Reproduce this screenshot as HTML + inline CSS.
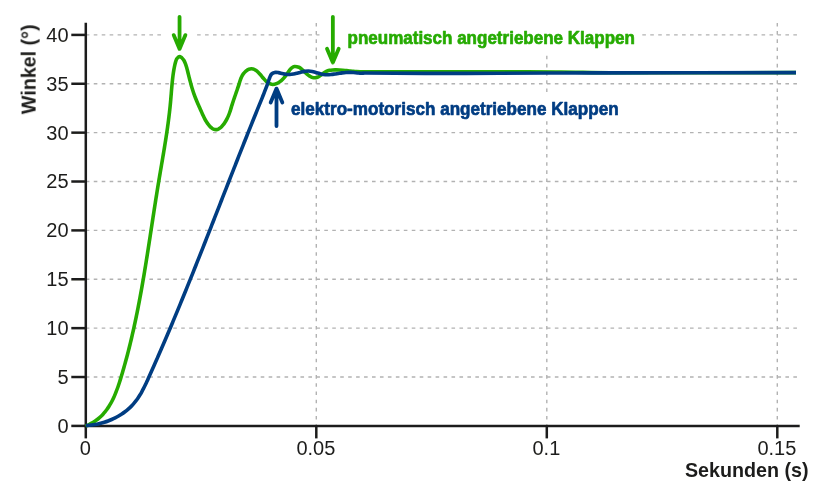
<!DOCTYPE html>
<html lang="de"><head><meta charset="utf-8"><title>Winkel / Sekunden</title>
<style>
html,body{margin:0;padding:0;background:#fff;}
body{width:840px;height:491px;overflow:hidden;}
svg{display:block;}
text{font-family:"Liberation Sans",Arial,Helvetica,sans-serif;}
</style></head><body>
<svg width="840" height="491" viewBox="0 0 840 491">
<defs><filter id="soft" x="0" y="0" width="840" height="491" filterUnits="userSpaceOnUse"><feGaussianBlur stdDeviation="0.5"/></filter></defs>
<rect width="840" height="491" fill="#fff"/>
<g filter="url(#soft)">
<g stroke="#b2b2b2" stroke-width="1.4" stroke-dasharray="3.6 4.35" fill="none">
<line x1="85.8" y1="377.02" x2="797.6" y2="377.02"/>
<line x1="85.8" y1="328.15" x2="797.6" y2="328.15"/>
<line x1="85.8" y1="279.27" x2="797.6" y2="279.27"/>
<line x1="85.8" y1="230.40" x2="797.6" y2="230.40"/>
<line x1="85.8" y1="181.52" x2="797.6" y2="181.52"/>
<line x1="85.8" y1="132.65" x2="797.6" y2="132.65"/>
<line x1="85.8" y1="83.77" x2="797.6" y2="83.77"/>
<line x1="85.8" y1="34.90" x2="797.6" y2="34.90"/>
<line x1="316.30" y1="22.9" x2="316.30" y2="425.9" stroke-dasharray="3.6 4.59"/>
<line x1="546.80" y1="22.9" x2="546.80" y2="425.9" stroke-dasharray="3.6 4.59"/>
<line x1="777.30" y1="22.9" x2="777.30" y2="425.9" stroke-dasharray="3.6 4.59"/>
</g>
<g fill="#fff">
<rect x="161" y="10" width="35.5" height="42"/>
<rect x="319.5" y="10" width="321" height="44.5"/>
<rect x="266" y="92" width="360" height="27"/>
</g>
<g stroke="#1d1d1b" stroke-width="2.5" fill="none">
<line x1="85.8" y1="22.8" x2="85.8" y2="427.15"/>
<line x1="84.55" y1="425.9" x2="799.7" y2="425.9"/>
<line x1="71.3" y1="425.90" x2="85.8" y2="425.90"/>
<line x1="71.3" y1="377.02" x2="85.8" y2="377.02"/>
<line x1="71.3" y1="328.15" x2="85.8" y2="328.15"/>
<line x1="71.3" y1="279.27" x2="85.8" y2="279.27"/>
<line x1="71.3" y1="230.40" x2="85.8" y2="230.40"/>
<line x1="71.3" y1="181.52" x2="85.8" y2="181.52"/>
<line x1="71.3" y1="132.65" x2="85.8" y2="132.65"/>
<line x1="71.3" y1="83.77" x2="85.8" y2="83.77"/>
<line x1="71.3" y1="34.90" x2="85.8" y2="34.90"/>
<line x1="85.80" y1="425.9" x2="85.80" y2="438.4"/>
<line x1="316.30" y1="425.9" x2="316.30" y2="438.4"/>
<line x1="546.80" y1="425.9" x2="546.80" y2="438.4"/>
<line x1="777.30" y1="425.9" x2="777.30" y2="438.4"/>
</g>
<g font-size="20" fill="#1d1d1b">
<text x="68.6" y="432.85" text-anchor="end">0</text>
<text x="68.6" y="383.97" text-anchor="end">5</text>
<text x="68.6" y="335.10" text-anchor="end">10</text>
<text x="68.6" y="286.22" text-anchor="end">15</text>
<text x="68.6" y="237.35" text-anchor="end">20</text>
<text x="68.6" y="188.47" text-anchor="end">25</text>
<text x="68.6" y="139.60" text-anchor="end">30</text>
<text x="68.6" y="90.72" text-anchor="end">35</text>
<text x="68.6" y="41.85" text-anchor="end">40</text>
<text x="85.40" y="455.1" text-anchor="middle">0</text>
<text x="315.90" y="455.1" text-anchor="middle">0.05</text>
<text x="546.40" y="455.1" text-anchor="middle">0.1</text>
<text x="776.90" y="455.1" text-anchor="middle">0.15</text>
</g>
<g font-size="19.7" font-weight="bold" fill="#1d1d1b">
<text x="808.5" y="477.2" text-anchor="end">Sekunden (s)</text>
<text transform="translate(35.6,114.2) rotate(-90)">Winkel (°)</text>
</g>
<path d="M85.60,426.08 C86.75,425.58 87.91,425.13 89.04,424.59 C90.13,424.07 91.19,423.51 92.24,422.91 C93.25,422.33 94.24,421.70 95.20,421.04 C96.14,420.40 97.06,419.71 97.95,419.00 C98.83,418.30 99.68,417.56 100.50,416.79 C101.31,416.04 102.09,415.25 102.85,414.44 C103.60,413.63 104.32,412.79 105.02,411.94 C105.72,411.08 106.39,410.21 107.03,409.31 C107.67,408.42 108.29,407.50 108.88,406.57 C109.48,405.63 110.04,404.68 110.59,403.72 C111.14,402.75 111.67,401.76 112.17,400.77 C112.68,399.77 113.17,398.76 113.64,397.74 C114.11,396.71 114.56,395.67 115.00,394.63 C115.44,393.58 115.86,392.52 116.27,391.46 C116.68,390.39 117.08,389.32 117.47,388.24 C117.85,387.16 118.23,386.07 118.59,384.98 C118.96,383.89 119.32,382.79 119.67,381.70 C120.02,380.60 120.36,379.49 120.70,378.39 C121.04,377.29 121.37,376.18 121.71,375.08 C122.04,373.97 122.36,372.87 122.69,371.76 C123.01,370.66 123.33,369.55 123.65,368.45 C123.97,367.34 124.28,366.24 124.59,365.13 C124.90,364.03 125.21,362.92 125.51,361.81 C125.82,360.71 126.12,359.60 126.42,358.49 C126.71,357.39 127.01,356.28 127.30,355.17 C127.59,354.06 127.88,352.96 128.16,351.85 C128.45,350.74 128.73,349.63 129.01,348.52 C129.28,347.42 129.56,346.31 129.83,345.20 C130.11,344.09 130.38,342.98 130.64,341.87 C130.91,340.76 131.17,339.65 131.44,338.54 C131.70,337.44 131.96,336.33 132.21,335.22 C132.47,334.11 132.72,333.00 132.97,331.89 C133.23,330.78 133.47,329.66 133.72,328.55 C133.97,327.44 134.21,326.33 134.45,325.22 C134.69,324.11 134.93,323.00 135.17,321.89 C135.40,320.78 135.64,319.66 135.87,318.55 C136.10,317.44 136.33,316.33 136.56,315.21 C136.79,314.10 137.01,312.99 137.24,311.88 C137.46,310.76 137.68,309.65 137.90,308.54 C138.12,307.42 138.34,306.31 138.55,305.20 C138.77,304.08 138.98,302.97 139.19,301.86 C139.40,300.74 139.61,299.63 139.82,298.51 C140.03,297.40 140.24,296.29 140.44,295.17 C140.65,294.06 140.85,292.94 141.05,291.83 C141.25,290.71 141.45,289.60 141.65,288.48 C141.85,287.36 142.05,286.25 142.24,285.13 C142.44,284.02 142.63,282.90 142.82,281.79 C143.02,280.67 143.21,279.55 143.40,278.44 C143.59,277.32 143.78,276.20 143.97,275.09 C144.15,273.97 144.34,272.85 144.53,271.74 C144.71,270.62 144.90,269.50 145.08,268.38 C145.26,267.27 145.45,266.15 145.63,265.03 C145.81,263.91 145.99,262.79 146.17,261.68 C146.35,260.56 146.53,259.44 146.71,258.32 C146.88,257.20 147.06,256.08 147.24,254.97 C147.42,253.85 147.59,252.73 147.77,251.61 C147.94,250.49 148.12,249.37 148.29,248.25 C148.47,247.13 148.64,246.01 148.82,244.89 C148.99,243.77 149.16,242.65 149.33,241.53 C149.51,240.41 149.68,239.29 149.85,238.17 C150.02,237.05 150.20,235.93 150.37,234.81 C150.54,233.69 150.71,232.57 150.88,231.45 C151.06,230.33 151.23,229.21 151.40,228.08 C151.57,226.96 151.74,225.84 151.91,224.72 C152.08,223.60 152.26,222.48 152.43,221.36 C152.60,220.23 152.77,219.11 152.94,217.99 C153.12,216.87 153.29,215.75 153.46,214.62 C153.63,213.50 153.81,212.38 153.98,211.26 C154.15,210.13 154.33,209.01 154.50,207.89 C154.67,206.77 154.85,205.64 155.02,204.52 C155.20,203.40 155.38,202.27 155.55,201.15 C155.73,200.03 155.91,198.90 156.08,197.78 C156.26,196.66 156.44,195.53 156.62,194.41 C156.80,193.28 156.98,192.16 157.16,191.04 C157.34,189.91 157.52,188.79 157.71,187.66 C157.89,186.54 158.07,185.42 158.26,184.29 C158.44,183.17 158.63,182.04 158.82,180.92 C159.00,179.79 159.19,178.67 159.38,177.54 C159.57,176.42 159.76,175.29 159.95,174.17 C160.14,173.04 160.33,171.92 160.52,170.79 C160.72,169.67 160.91,168.54 161.10,167.42 C161.29,166.29 161.48,165.17 161.67,164.04 C161.87,162.91 162.06,161.79 162.25,160.66 C162.44,159.54 162.63,158.41 162.82,157.29 C163.01,156.16 163.20,155.03 163.39,153.91 C163.58,152.78 163.76,151.66 163.95,150.53 C164.14,149.40 164.32,148.28 164.51,147.15 C164.69,146.02 164.87,144.90 165.05,143.77 C165.23,142.65 165.41,141.52 165.59,140.39 C165.77,139.27 165.94,138.14 166.12,137.01 C166.29,135.89 166.46,134.76 166.63,133.63 C166.80,132.51 166.96,131.38 167.13,130.25 C167.29,129.13 167.45,128.00 167.61,126.87 C167.77,125.75 167.92,124.62 168.08,123.49 C168.23,122.37 168.38,121.24 168.52,120.11 C168.67,118.99 168.81,117.86 168.95,116.73 C169.09,115.61 169.22,114.48 169.35,113.35 C169.48,112.23 169.61,111.10 169.73,109.98 C169.86,108.85 169.98,107.72 170.09,106.60 C170.21,105.47 170.32,104.34 170.42,103.22 C170.53,102.09 170.63,100.96 170.73,99.84 C170.82,98.71 170.92,97.58 171.01,96.46 C171.10,95.33 171.19,94.20 171.29,93.08 C171.38,91.95 171.47,90.82 171.56,89.69 C171.66,88.57 171.76,87.44 171.86,86.31 C171.96,85.18 172.06,84.05 172.18,82.92 C172.29,81.79 172.40,80.66 172.53,79.53 C172.66,78.40 172.79,77.27 172.93,76.14 C173.08,75.01 173.23,73.87 173.39,72.74 C173.56,71.60 173.73,70.46 173.93,69.33 C174.14,68.14 174.36,66.95 174.62,65.77 C174.92,64.47 175.19,63.15 175.61,61.89 C176.01,60.68 176.27,59.24 177.07,58.36 C177.83,57.52 179.34,56.50 180.29,56.73 C181.50,57.01 182.66,58.72 183.57,59.91 C184.29,60.84 184.73,62.00 185.19,63.09 C185.68,64.26 186.06,65.49 186.43,66.70 C186.81,67.94 187.12,69.21 187.44,70.46 C187.76,71.67 188.05,72.90 188.35,74.11 C188.64,75.27 188.92,76.42 189.21,77.58 C189.49,78.68 189.77,79.79 190.06,80.89 C190.34,81.96 190.62,83.02 190.92,84.09 C191.20,85.13 191.49,86.17 191.80,87.20 C192.10,88.23 192.41,89.25 192.74,90.27 C193.06,91.29 193.40,92.31 193.75,93.32 C194.11,94.35 194.48,95.38 194.86,96.40 C195.26,97.45 195.67,98.49 196.10,99.53 C196.53,100.60 196.98,101.66 197.44,102.72 C197.90,103.80 198.38,104.87 198.85,105.94 C199.33,107.02 199.82,108.09 200.30,109.17 C200.78,110.24 201.26,111.30 201.73,112.37 C202.20,113.42 202.66,114.48 203.14,115.52 C203.62,116.56 204.10,117.59 204.62,118.60 C205.14,119.61 205.68,120.61 206.29,121.57 C206.90,122.55 207.54,123.52 208.26,124.42 C208.99,125.35 209.76,126.28 210.63,127.08 C211.46,127.84 212.32,128.74 213.34,129.09 C214.63,129.54 216.25,129.69 217.59,129.45 C218.58,129.27 219.51,128.49 220.33,127.84 C221.28,127.08 222.12,126.15 222.90,125.21 C223.74,124.20 224.48,123.10 225.18,121.99 C225.88,120.90 226.50,119.76 227.09,118.61 C227.63,117.55 228.12,116.46 228.58,115.36 C229.01,114.33 229.39,113.28 229.76,112.23 C230.11,111.21 230.43,110.18 230.75,109.16 C231.06,108.14 231.36,107.11 231.67,106.09 C231.99,105.05 232.32,104.00 232.65,102.97 C233.00,101.90 233.35,100.84 233.71,99.78 C234.08,98.69 234.45,97.62 234.82,96.54 C235.20,95.44 235.58,94.35 235.96,93.26 C236.34,92.17 236.73,91.07 237.10,89.97 C237.48,88.87 237.85,87.78 238.21,86.68 C238.57,85.59 238.91,84.49 239.26,83.40 C239.60,82.32 239.90,81.22 240.28,80.15 C240.65,79.08 241.02,78.00 241.52,76.98 C242.03,75.91 242.61,74.85 243.31,73.90 C244.07,72.89 244.92,71.90 245.88,71.08 C246.76,70.32 247.74,69.47 248.83,69.15 C250.14,68.76 251.73,68.73 253.09,68.96 C254.05,69.12 254.96,69.76 255.79,70.31 C256.73,70.94 257.58,71.73 258.39,72.52 C259.29,73.38 260.10,74.34 260.92,75.27 C261.77,76.25 262.55,77.28 263.40,78.26 C264.21,79.20 265.00,80.18 265.89,81.05 C266.69,81.83 267.49,82.72 268.48,83.22 C269.75,83.86 271.25,84.46 272.66,84.48 C274.11,84.50 275.67,83.92 277.06,83.36 C278.10,82.95 279.05,82.26 279.95,81.59 C280.93,80.87 281.85,80.05 282.71,79.19 C283.60,78.30 284.44,77.34 285.22,76.35 C286.01,75.36 286.70,74.30 287.43,73.26 C288.13,72.27 288.75,71.23 289.50,70.29 C290.18,69.44 290.88,68.55 291.74,67.89 C292.53,67.30 293.48,66.63 294.43,66.54 C295.85,66.42 297.49,66.76 298.85,67.27 C299.89,67.65 300.74,68.53 301.62,69.23 C302.55,69.99 303.41,70.84 304.31,71.65 C305.20,72.46 306.06,73.30 306.98,74.07 C307.85,74.80 308.73,75.54 309.68,76.14 C310.55,76.69 311.47,77.33 312.45,77.51 C313.85,77.78 315.44,77.81 316.82,77.50 C317.93,77.25 318.93,76.45 319.92,75.82 C321.02,75.12 322.02,74.25 323.11,73.51 C324.16,72.80 325.19,72.04 326.32,71.48 C327.33,70.99 328.42,70.62 329.51,70.36 C330.56,70.11 331.65,70.03 332.72,69.95 C333.81,69.88 334.90,69.89 335.99,69.90 C337.11,69.91 338.23,69.96 339.34,70.03 C340.48,70.09 341.62,70.18 342.75,70.28 C343.91,70.38 345.05,70.50 346.20,70.61 C347.36,70.73 348.52,70.86 349.67,70.98 C350.83,71.10 351.98,71.23 353.14,71.33 C354.29,71.44 355.43,71.55 356.58,71.62 C357.72,71.70 358.85,71.77 359.99,71.81 C361.10,71.84 362.22,71.83 363.33,71.83 C385.56,71.83 407.78,71.79 430.00,71.80 C453.33,71.81 476.67,71.86 500.00,71.90 C520.00,71.93 540.00,71.85 560.00,72.00 C576.67,72.12 593.33,72.66 610.00,72.70 C672.00,72.86 734.00,72.63 796.00,72.60" fill="none" stroke="#26ab04" stroke-width="3.6" stroke-linejoin="round"/>
<path d="M85.85,425.53 C87.08,425.45 88.32,425.40 89.54,425.28 C90.79,425.17 92.03,425.02 93.26,424.83 C94.51,424.64 95.76,424.42 97.00,424.17 C98.25,423.91 99.49,423.62 100.73,423.30 C101.97,422.98 103.20,422.62 104.43,422.23 C105.65,421.84 106.87,421.42 108.08,420.96 C109.29,420.51 110.48,420.02 111.67,419.50 C112.85,418.98 114.02,418.43 115.17,417.85 C116.32,417.27 117.45,416.65 118.57,416.01 C119.68,415.37 120.77,414.69 121.84,413.98 C122.91,413.28 123.95,412.55 124.97,411.78 C125.98,411.02 126.98,410.22 127.94,409.39 C128.89,408.57 129.82,407.72 130.72,406.84 C131.61,405.96 132.47,405.05 133.30,404.11 C134.13,403.18 134.92,402.21 135.68,401.22 C136.44,400.23 137.17,399.22 137.87,398.19 C138.57,397.16 139.24,396.10 139.90,395.03 C140.55,393.96 141.18,392.87 141.79,391.77 C142.40,390.67 142.99,389.55 143.57,388.43 C144.15,387.30 144.71,386.16 145.26,385.01 C145.81,383.87 146.35,382.71 146.89,381.56 C147.42,380.40 147.95,379.23 148.47,378.07 C149.00,376.90 149.52,375.74 150.05,374.57 C150.57,373.41 151.09,372.24 151.61,371.08 C152.13,369.91 152.65,368.74 153.17,367.58 C153.68,366.41 154.20,365.24 154.72,364.08 C155.23,362.91 155.75,361.74 156.26,360.57 C156.77,359.41 157.28,358.24 157.79,357.07 C158.31,355.90 158.82,354.73 159.32,353.56 C159.83,352.40 160.34,351.23 160.85,350.06 C161.35,348.89 161.86,347.72 162.36,346.55 C162.87,345.38 163.37,344.21 163.87,343.04 C164.38,341.87 164.88,340.70 165.38,339.53 C165.88,338.35 166.38,337.18 166.88,336.01 C167.37,334.84 167.87,333.67 168.37,332.50 C168.86,331.32 169.36,330.15 169.85,328.98 C170.35,327.81 170.84,326.64 171.34,325.46 C171.83,324.29 172.32,323.12 172.81,321.94 C173.30,320.77 173.79,319.60 174.28,318.42 C174.77,317.25 175.26,316.08 175.75,314.90 C176.24,313.73 176.72,312.55 177.21,311.38 C177.70,310.20 178.18,309.03 178.67,307.85 C179.15,306.68 179.64,305.50 180.12,304.33 C180.60,303.15 181.08,301.98 181.57,300.80 C182.05,299.63 182.53,298.45 183.01,297.28 C183.49,296.10 183.97,294.92 184.45,293.75 C184.93,292.57 185.41,291.39 185.88,290.22 C186.36,289.04 186.84,287.86 187.32,286.69 C187.79,285.51 188.27,284.33 188.74,283.16 C189.22,281.98 189.69,280.80 190.17,279.62 C190.64,278.45 191.12,277.27 191.59,276.09 C192.06,274.91 192.53,273.73 193.01,272.56 C193.48,271.38 193.95,270.20 194.42,269.02 C194.89,267.84 195.36,266.66 195.83,265.49 C196.30,264.31 196.77,263.13 197.24,261.95 C197.71,260.77 198.18,259.59 198.65,258.41 C199.12,257.23 199.59,256.05 200.05,254.87 C200.52,253.70 200.99,252.52 201.45,251.34 C201.92,250.16 202.39,248.98 202.85,247.80 C203.32,246.62 203.79,245.44 204.25,244.26 C204.72,243.08 205.18,241.90 205.65,240.72 C206.11,239.54 206.58,238.36 207.04,237.18 C207.51,236.00 207.97,234.82 208.43,233.64 C208.90,232.46 209.36,231.28 209.83,230.09 C210.29,228.91 210.75,227.73 211.22,226.55 C211.68,225.37 212.14,224.19 212.60,223.01 C213.07,221.83 213.53,220.65 213.99,219.47 C214.45,218.29 214.92,217.11 215.38,215.93 C215.84,214.74 216.30,213.56 216.77,212.38 C217.23,211.20 217.69,210.02 218.15,208.84 C218.61,207.66 219.08,206.48 219.54,205.29 C220.00,204.11 220.46,202.93 220.92,201.75 C221.38,200.57 221.85,199.39 222.31,198.21 C222.77,197.03 223.23,195.84 223.69,194.66 C224.15,193.48 224.62,192.30 225.08,191.12 C225.54,189.94 226.00,188.76 226.46,187.58 C226.93,186.39 227.39,185.21 227.85,184.03 C228.31,182.85 228.78,181.67 229.24,180.49 C229.70,179.31 230.16,178.13 230.63,176.94 C231.09,175.76 231.55,174.58 232.02,173.40 C232.48,172.22 232.94,171.04 233.41,169.86 C233.87,168.68 234.33,167.49 234.80,166.31 C235.26,165.13 235.73,163.95 236.19,162.77 C236.66,161.59 237.12,160.41 237.59,159.23 C238.05,158.05 238.52,156.87 238.98,155.69 C239.45,154.50 239.91,153.32 240.38,152.14 C240.85,150.96 241.31,149.78 241.78,148.60 C242.25,147.42 242.72,146.24 243.18,145.06 C243.65,143.88 244.12,142.70 244.59,141.52 C245.06,140.34 245.53,139.16 246.00,137.98 C246.47,136.80 246.94,135.62 247.41,134.44 C247.88,133.26 248.35,132.08 248.82,130.90 C249.29,129.72 249.76,128.54 250.24,127.36 C250.71,126.18 251.18,125.00 251.65,123.82 C252.13,122.64 252.60,121.46 253.08,120.28 C253.55,119.10 254.03,117.93 254.50,116.75 C254.98,115.57 255.45,114.39 255.93,113.21 C256.41,112.03 256.89,110.85 257.36,109.68 C257.84,108.50 258.32,107.32 258.80,106.14 C259.28,104.96 259.76,103.78 260.24,102.61 C260.72,101.43 261.20,100.25 261.68,99.07 C262.15,97.89 262.63,96.70 263.10,95.52 C263.57,94.33 264.04,93.15 264.50,91.96 C264.96,90.77 265.42,89.58 265.87,88.38 C266.33,87.18 266.77,85.98 267.21,84.78 C267.65,83.57 268.08,82.36 268.50,81.15 C268.93,79.93 269.26,78.68 269.76,77.50 C270.26,76.34 270.65,74.98 271.49,74.12 C272.28,73.31 273.55,72.72 274.68,72.48 C275.87,72.23 277.22,72.46 278.47,72.63 C279.75,72.80 280.99,73.24 282.25,73.52 C283.51,73.81 284.75,74.16 286.02,74.32 C287.26,74.48 288.53,74.55 289.78,74.50 C291.03,74.45 292.29,74.26 293.52,74.04 C294.78,73.81 296.01,73.48 297.25,73.17 C298.49,72.86 299.72,72.49 300.97,72.19 C302.20,71.90 303.44,71.59 304.69,71.40 C305.92,71.21 307.17,71.06 308.41,71.06 C309.65,71.07 310.91,71.23 312.13,71.45 C313.39,71.67 314.63,72.05 315.87,72.39 C317.12,72.74 318.35,73.17 319.61,73.51 C320.85,73.85 322.09,74.22 323.36,74.43 C324.60,74.64 325.86,74.77 327.11,74.79 C328.37,74.81 329.63,74.69 330.87,74.56 C332.13,74.44 333.38,74.22 334.64,74.02 C335.89,73.83 337.14,73.61 338.40,73.41 C339.66,73.22 340.91,73.01 342.17,72.85 C343.43,72.69 344.69,72.54 345.96,72.46 C347.22,72.37 348.49,72.32 349.75,72.33 C351.03,72.35 352.30,72.45 353.57,72.55 C354.84,72.65 356.11,72.83 357.39,72.94 C358.66,73.04 359.93,73.18 361.20,73.19 C362.47,73.20 363.73,72.99 365.00,73.00 C386.66,73.06 408.33,73.37 430.00,73.40 C453.33,73.44 476.67,73.27 500.00,73.20 C533.33,73.10 566.67,72.97 600.00,72.90 C665.33,72.77 730.67,72.70 796.00,72.60" fill="none" stroke="#003c82" stroke-width="3.6" stroke-linejoin="round"/>
<g fill="none" stroke="#26ab04" stroke-width="3.8" stroke-linecap="round" stroke-linejoin="round">
<path d="M179.55,16.8 V48.5 M173.7,35.1 L179.55,48.9 L185.4,35.1"/>
<path d="M332.85,16.8 V62.2 M327,48.7 L332.85,62.6 L338.7,48.7"/>
</g>
<g fill="none" stroke="#003c82" stroke-width="3.8" stroke-linecap="round" stroke-linejoin="round">
<path d="M276.5,126.1 V89 M270.65,102.6 L276.5,88.6 L282.35,102.6"/>
</g>
<g font-size="19.2" font-weight="bold" stroke-width="0.7" stroke-linejoin="round">
<text x="347.5" y="43.8" fill="#26ab04" stroke="#26ab04" textLength="287.4" lengthAdjust="spacingAndGlyphs">pneumatisch angetriebene Klappen</text>
<text x="291.1" y="115.3" fill="#003c82" stroke="#003c82" textLength="327.5" lengthAdjust="spacingAndGlyphs">elektro-motorisch angetriebene Klappen</text>
</g>
</g>
</svg>
</body></html>
